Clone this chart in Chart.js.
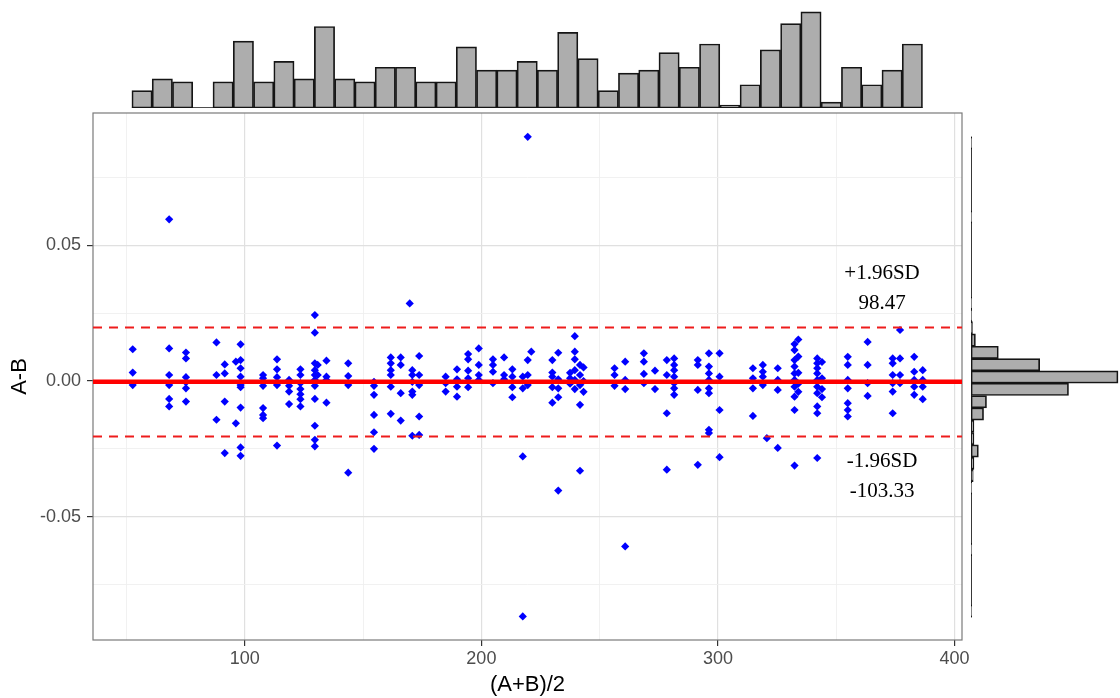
<!DOCTYPE html>
<html>
<head>
<meta charset="utf-8">
<title>Bland-Altman plot</title>
<script src="https://cdn.jsdelivr.net/npm/chart.js@4.4.1/dist/chart.umd.min.js"></script>
<style>
  html, body { margin: 0; padding: 0; background: #ffffff; }
  #wrap { position: relative; width: 1120px; height: 698px; overflow: hidden; }
  .box { position: absolute; }
</style>
</head>
<body>
<div id="wrap">
  <div class="box" style="left:0;top:0;width:1120px;height:698px"><canvas id="main"></canvas></div>
  <div class="box" style="left:93px;top:0;width:869px;height:112px"><canvas id="topHist"></canvas></div>
  <div class="box" style="left:966px;top:113px;width:154px;height:527px"><canvas id="rightHist"></canvas></div>
</div>
<script>
// ---- data -------------------------------------------------------------
// mean of the two methods, one entry per column of measurements
const colMean = [
  52.6, 68.0, 75.1, 88.0, 91.5, 96.2, 98.2, 107.7, 113.6, 118.7,
  123.5, 129.6, 130.8, 134.5, 143.7, 154.6, 161.7, 165.9, 169.7, 170.8,
  173.7, 184.9, 189.7, 194.4, 198.9, 204.9, 209.6, 213.1, 217.5, 219.6,
  221.1, 230.0, 232.5, 237.5, 239.5, 241.7, 243.2, 256.3, 260.8, 268.7,
  273.4, 278.4, 281.5, 291.5, 296.2, 300.7, 314.8, 319.0, 320.7, 325.3,
  332.4, 334.0, 342.0, 344.0, 354.9, 363.3, 373.9, 377.0, 383.0, 386.6
];
// differences A-B observed at each mean
const colDiff = [
  [0.0117, 0.0031, -0.0015],
  [0.0596, 0.0120, 0.0022, -0.0015, -0.0066, -0.0094],
  [0.0105, 0.0083, 0.0014, -0.0005, -0.0027, -0.0076],
  [0.0142, 0.0022, -0.0143],
  [0.0061, 0.0028, -0.0076, -0.0266],
  [0.0071, -0.0156],
  [0.0135, 0.0077, 0.0047, 0.0016, -0.0015, -0.0023, -0.0098, -0.0245, -0.0276],
  [0.0022, 0.0010, -0.0018, -0.0100, -0.0125, -0.0137],
  [0.0080, 0.0043, 0.0014, -0.0015, -0.0238],
  [0.0004, -0.0018, -0.0039, -0.0085],
  [0.0043, 0.0022, -0.0008, -0.0030, -0.0049, -0.0067, -0.0094],
  [0.0243, 0.0178, 0.0065, 0.0040, 0.0022, 0.0004, -0.0018, -0.0066, -0.0165, -0.0217, -0.0241],
  [0.0059, 0.0022],
  [0.0075, 0.0016, 0.0004, -0.0080],
  [0.0065, 0.0018, -0.0015, -0.0338],
  [-0.0003, -0.0018, -0.0051, -0.0125, -0.0189, -0.0250],
  [0.0087, 0.0065, 0.0040, 0.0022, -0.0021, -0.0121],
  [0.0087, 0.0059, -0.0045, -0.0146],
  [0.0286],
  [0.0040, 0.0022, -0.0003, -0.0039, -0.0051, -0.0202],
  [0.0092, 0.0022, -0.0015, -0.0131, -0.0199],
  [0.0016, -0.0008, -0.0039],
  [0.0043, 0.0006, -0.0021, -0.0058],
  [0.0099, 0.0080, 0.0038, 0.0010, -0.0023],
  [0.0120, 0.0059, 0.0022, 0.0004],
  [0.0080, 0.0059, 0.0034, -0.0008],
  [0.0087, 0.0022, 0.0006],
  [0.0043, 0.0016, -0.0023, -0.0060],
  [0.0016, -0.0027, -0.0278, -0.0868],
  [0.0900, 0.0077, 0.0022, -0.0015],
  [0.0108],
  [0.0077, 0.0031, 0.0016, -0.0023, -0.0080],
  [0.0104, 0.0006, -0.0027, -0.0060, -0.0404],
  [0.0030, 0.0010, -0.0010],
  [0.0165, 0.0108, 0.0080, 0.0040, 0.0004, -0.0030],
  [0.0059, 0.0022, -0.0015, -0.0088, -0.0331],
  [0.0050, 0.0000, -0.0040],
  [0.0047, 0.0022, -0.0018],
  [0.0071, 0.0004, -0.0030, -0.0610],
  [0.0102, 0.0071, 0.0026, -0.0008],
  [0.0038, -0.0030],
  [0.0077, 0.0022, -0.0119, -0.0327],
  [0.0083, 0.0059, 0.0040, 0.0016, -0.0008, -0.0027, -0.0051],
  [0.0077, 0.0059, -0.0033, -0.0309],
  [0.0102, 0.0053, 0.0028, 0.0004, -0.0027, -0.0045, -0.0180, -0.0192],
  [0.0102, 0.0016, -0.0107, -0.0281],
  [0.0047, 0.0010, -0.0027, -0.0129],
  [0.0059, 0.0034, 0.0016, -0.0015],
  [-0.0211],
  [0.0047, 0.0004, -0.0033, -0.0247],
  [0.0136, 0.0114, 0.0077, 0.0053, 0.0028, 0.0004, -0.0021, -0.0058, -0.0107, -0.0312],
  [0.0153, 0.0090, 0.0030, -0.0010, -0.0040],
  [0.0083, 0.0065, 0.0047, 0.0028, 0.0004, -0.0021, -0.0045, -0.0094, -0.0119, -0.0284],
  [0.0070, 0.0010, -0.0030, -0.0060],
  [0.0089, 0.0059, 0.0004, -0.0027, -0.0082, -0.0107, -0.0131],
  [0.0144, 0.0059, -0.0008, -0.0055],
  [0.0083, 0.0065, 0.0022, -0.0008, -0.0039, -0.0119],
  [0.0188, 0.0083, 0.0022, -0.0008],
  [0.0089, 0.0034, 0.0004, -0.0021, -0.0051],
  [0.0040, 0.0004, -0.0021, -0.0067]
];

// mean difference and limits of agreement
const meanDiff = -0.0003;
const upperLoA = 0.0197;
const lowerLoA = -0.0205;
const loaLabels = [
  { text: '+1.96SD', x: 369.4, y: 0.0398 },
  { text: '98.47',   x: 369.4, y: 0.0287 },
  { text: '-1.96SD', x: 369.4, y: -0.0297 },
  { text: '-103.33', x: 369.4, y: -0.0407 }
];

// marginal histogram of the means (39 bins)
const xBinStart = 52.25, xBinEnd = 386.5;
const xHistCounts = [
  6, 10, 9, 0, 9, 23, 9, 16, 10, 28,
  10, 9, 14, 14, 9, 9, 21, 13, 13, 16,
  13, 26, 17, 6, 12, 13, 19, 14, 22, 1,
  8, 20, 29, 33, 2, 14, 8, 13, 22
];
// marginal histogram of the differences (39 bins, low to high)
const yBinStart = -0.0871, yBinEnd = 0.0900;
const yHistCounts = [
  1, 0, 0, 0, 0, 1, 0, 0, 0, 0,
  1, 3, 4, 10, 4, 4, 17, 21, 132, 199,
  93, 37, 6, 2, 1, 1, 0, 0, 0, 0,
  0, 0, 1, 0, 0, 0, 0, 0, 1
];

// axis ranges and ticks
const X_MIN = 35.8, X_MAX = 403.2;
const Y_MIN = -0.0955, Y_MAX = 0.0988;
const xStep = 50, xMajor = 100;
const yStep = 0.025, yMajor = 0.05;

// ---- helpers ----------------------------------------------------------
const points = [];
colMean.forEach((m, i) => colDiff[i].forEach(d => points.push({ x: m, y: d })));

const isMajor = (v, step) => Math.abs(Math.round(v / step) * step - v) < 1e-9;
const SANS = "'Liberation Sans', Arial, Helvetica, sans-serif";

Chart.defaults.animation = false;
Chart.defaults.plugins.legend.display = false;
Chart.defaults.plugins.tooltip.enabled = false;

// panel frame and limit-of-agreement labels
const panelPlugin = {
  id: 'panel',
  beforeDatasetsDraw(chart) {
    const { ctx, chartArea: a } = chart;
    ctx.save();
    ctx.strokeStyle = '#7a7a7a';
    ctx.lineWidth = 1.2;
    ctx.strokeRect(a.left, a.top, a.right - a.left, a.bottom - a.top);
    ctx.restore();
  },
  afterDatasetsDraw(chart) {
    const { ctx, scales } = chart;
    ctx.save();
    ctx.font = "21px 'Liberation Serif', 'Times New Roman', serif";
    ctx.fillStyle = '#000000';
    ctx.textAlign = 'center';
    ctx.textBaseline = 'middle';
    loaLabels.forEach(l => {
      ctx.fillText(l.text, scales.x.getPixelForValue(l.x), scales.y.getPixelForValue(l.y));
    });
    ctx.restore();
  }
};

const hLine = (y, color, width, dash, order) => ({
  type: 'line',
  data: [{ x: X_MIN, y: y }, { x: X_MAX, y: y }],
  borderColor: color,
  borderWidth: width,
  borderDash: dash,
  pointRadius: 0,
  order: order
});

// ---- main scatter -----------------------------------------------------
new Chart(document.getElementById('main'), {
  type: 'scatter',
  data: {
    datasets: [
      hLine(meanDiff, '#ff0000', 4.5, [], 0),
      hLine(upperLoA, '#ee1c1c', 2, [9, 7], 1),
      hLine(lowerLoA, '#ee1c1c', 2, [9, 7], 1),
      {
        data: points,
        pointStyle: 'rectRot',
        pointRadius: 4.1,
        backgroundColor: '#0000ff',
        borderWidth: 0,
        order: 2
      }
    ]
  },
  options: {
    responsive: true,
    maintainAspectRatio: false,
    layout: { padding: { left: 0, top: 113, right: 158, bottom: 0 } },
    scales: {
      x: {
        type: 'linear',
        min: X_MIN, max: X_MAX,
        afterFit(s) { s.height = 58; },
        border: { display: false },
        grid: {
          color: c => isMajor(c.tick.value, xMajor) ? '#e0e0e0' : '#efefef',
          lineWidth: c => isMajor(c.tick.value, xMajor) ? 1.2 : 0.9,
          tickColor: c => isMajor(c.tick.value, xMajor) ? '#333333' : 'rgba(0,0,0,0)',
          tickLength: 6
        },
        ticks: {
          stepSize: xStep,
          includeBounds: false,
          autoSkip: false,
          maxRotation: 0,
          padding: 2,
          color: '#4d4d4d',
          font: { family: SANS, size: 18 },
          callback: v => isMajor(v, xMajor) ? String(Math.round(v)) : ''
        },
        title: {
          display: true,
          text: '(A+B)/2',
          color: '#000000',
          font: { family: SANS, size: 22 },
          padding: { top: 0, bottom: 0 }
        }
      },
      y: {
        type: 'linear',
        min: Y_MIN, max: Y_MAX,
        afterFit(s) { s.width = 93; },
        border: { display: false },
        grid: {
          color: c => isMajor(c.tick.value, yMajor) ? '#e0e0e0' : '#efefef',
          lineWidth: c => isMajor(c.tick.value, yMajor) ? 1.2 : 0.9,
          tickColor: c => isMajor(c.tick.value, yMajor) ? '#333333' : 'rgba(0,0,0,0)',
          tickLength: 6
        },
        ticks: {
          stepSize: yStep,
          includeBounds: false,
          autoSkip: false,
          padding: 6,
          color: '#4d4d4d',
          font: { family: SANS, size: 18 },
          callback: v => isMajor(v, yMajor) ? (Math.abs(v) < 1e-9 ? '0.00' : v.toFixed(2)) : ''
        },
        title: {
          display: true,
          text: 'A-B',
          color: '#000000',
          font: { family: SANS, size: 22 },
          padding: { top: 7, bottom: 0 }
        }
      }
    }
  },
  plugins: [panelPlugin]
});

// ---- top marginal histogram ---------------------------------------------
const xBinW = (xBinEnd - xBinStart) / xHistCounts.length;
new Chart(document.getElementById('topHist'), {
  type: 'bar',
  data: {
    datasets: [
      {
        data: xHistCounts.map((c, i) => ({ x: xBinStart + (i + 0.5) * xBinW, y: c })),
        backgroundColor: '#adadad',
        borderColor: '#151515',
        borderWidth: 1.7,
        borderSkipped: false,
        barPercentage: 1,
        categoryPercentage: 1
      },
      {
        type: 'line',
        data: [{ x: xBinStart, y: 0 }, { x: xBinEnd, y: 0 }],
        borderColor: '#151515',
        borderWidth: 1.7,
        pointRadius: 0
      }
    ]
  },
  options: {
    responsive: true,
    maintainAspectRatio: false,
    layout: { padding: { left: 0, right: 0, top: 0, bottom: 4 } },
    scales: {
      x: { type: 'linear', min: X_MIN, max: X_MAX, offset: false, display: false },
      y: { type: 'linear', min: 0, max: 37.1, display: false }
    }
  }
});

// ---- right marginal histogram -------------------------------------------
const yBinW = (yBinEnd - yBinStart) / yHistCounts.length;
new Chart(document.getElementById('rightHist'), {
  type: 'bar',
  data: {
    datasets: [
      {
        data: yHistCounts.map((c, i) => ({ y: yBinStart + (i + 0.5) * yBinW, x: c })),
        backgroundColor: '#adadad',
        borderColor: '#151515',
        borderWidth: 1.7,
        borderSkipped: false,
        barPercentage: 1,
        categoryPercentage: 1
      },
      {
        type: 'line',
        data: [{ x: 0, y: yBinStart }, { x: 0, y: yBinEnd }],
        borderColor: '#151515',
        borderWidth: 1.7,
        pointRadius: 0
      }
    ]
  },
  options: {
    indexAxis: 'y',
    responsive: true,
    maintainAspectRatio: false,
    layout: { padding: { left: 5, right: 0, top: 0, bottom: 0 } },
    scales: {
      y: { type: 'linear', min: Y_MIN, max: Y_MAX, offset: false, display: false },
      x: { type: 'linear', min: 0, max: 201.7, display: false }
    }
  }
});
</script>
</body>
</html>
